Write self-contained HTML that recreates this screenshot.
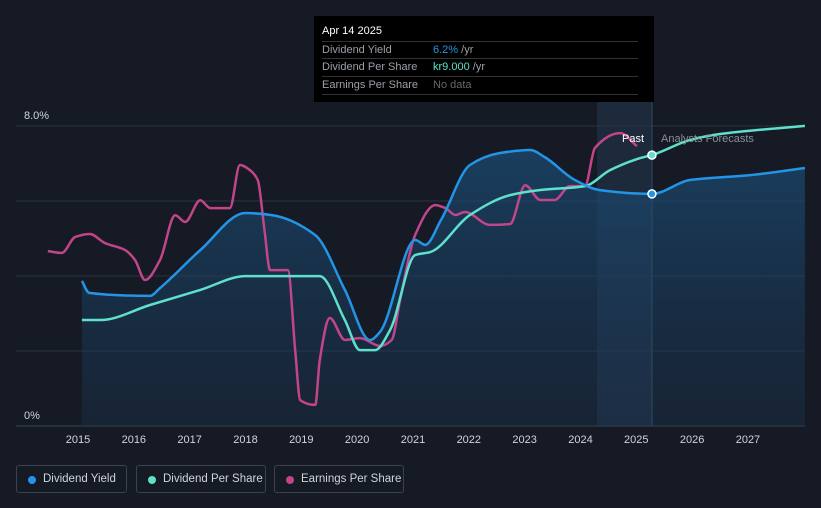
<!DOCTYPE html>
<html><head><meta charset="utf-8">
<style>
body{margin:0;background:#151a24;font-family:"Liberation Sans",sans-serif;}
#wrap{position:relative;width:821px;height:508px;overflow:hidden;background:#151a24;}
svg text{font-family:"Liberation Sans",sans-serif;}
.leg{position:absolute;top:465px;height:28px;border:1px solid #3a4150;border-radius:3px;color:#d0d4da;font-size:11.5px;line-height:27px;box-sizing:border-box;padding-left:26px;white-space:nowrap;}
.leg i{position:absolute;left:11px;top:10px;width:8px;height:8px;border-radius:50%;}
#tip{position:absolute;left:314px;top:16px;width:340px;height:86px;background:#000;color:#fff;font-size:11px;}
.row{position:absolute;left:8px;width:316px;border-top:1px solid #333;height:17px;line-height:17px;color:#9aa0a8;}
.row span{position:absolute;left:111px;}
</style></head><body>
<div id="wrap">
<svg id="svg" width="821" height="508"></svg>
<div id="tip">
 <div style="position:absolute;left:8px;top:9px;font-size:11px">Apr 14 2025</div>
 <div class="row" style="top:25px">Dividend Yield<span><b style="font-weight:normal;color:#2394e6">6.2%</b> /yr</span></div>
 <div class="row" style="top:42px">Dividend Per Share<span><b style="font-weight:normal;color:#5ee0cc">kr9.000</b> /yr</span></div>
 <div class="row" style="top:60px;border-bottom:1px solid #333">Earnings Per Share<span style="color:#666">No data</span></div>
</div>
<div class="leg" style="left:16px;width:111px"><i style="background:#2394e6"></i>Dividend Yield</div>
<div class="leg" style="left:136px;width:130px"><i style="background:#5ee0cc"></i>Dividend Per Share</div>
<div class="leg" style="left:274px;width:130px"><i style="background:#c2458a"></i>Earnings Per Share</div>
</div>
<script>
const yieldX=[2015.07,2015.2,2016.29,2016.47,2017.19,2018.0,2018.44,2019.25,2019.78,2020.23,2020.41,2021.04,2021.22,2021.5,2022.02,2022.56,2023.1,2023.36,2023.9,2024.35,2025.28,2025.96,2027.04,2028.02];
const yieldV=[3.87,3.55,3.47,3.68,4.69,5.68,5.63,5.09,3.63,2.29,2.51,4.96,4.83,5.49,6.96,7.28,7.36,7.17,6.56,6.29,6.19,6.56,6.69,6.88];
const dpsX=[2015.07,2015.4,2016.29,2017.19,2018.0,2019.33,2019.78,2020.05,2020.32,2020.59,2021.04,2021.31,2022.02,2022.74,2023.28,2024.08,2024.53,2025.07,2025.28,2025.96,2026.5,2028.02];
const dpsV=[3.52,3.52,4.02,4.52,4.98,4.98,3.52,2.52,2.52,3.19,5.68,5.78,7.01,7.67,7.84,7.97,8.5,8.9,9.0,9.5,9.7,9.97];
const epsX=[2014.46,2014.71,2014.95,2015.21,2015.48,2015.84,2016.02,2016.2,2016.47,2016.74,2016.92,2017.19,2017.37,2017.72,2017.9,2018.08,2018.22,2018.34,2018.44,2018.76,2018.89,2018.98,2019.25,2019.33,2019.51,2019.78,2020.05,2020.41,2020.62,2020.77,2021.04,2021.4,2021.58,2021.76,2021.93,2022.38,2022.74,2023.01,2023.28,2023.54,2023.81,2024.08,2024.26,2024.71,2025.01];
const epsV=[5.81,5.75,6.28,6.38,6.08,5.85,5.52,4.85,5.52,7.0,6.78,7.5,7.24,7.24,8.67,8.5,8.17,6.51,5.18,5.18,2.52,0.86,0.7,2.19,3.59,2.86,2.92,2.66,2.86,4.19,6.35,7.34,7.24,7.01,7.11,6.68,6.71,8.0,7.51,7.51,7.97,7.97,9.24,9.73,9.3];
const yTicks=[0,2,4,6,8];
const yTickLabels={0:"0%",8:"8.0%"};
const xYears=[2015,2016,2017,2018,2019,2020,2021,2022,2023,2024,2025,2026,2027];
const X=t=>78+(t-2015)*55.83;
const Y=v=>426-v*37.5;
const K=v=>426-v*30.1;
const ns="http://www.w3.org/2000/svg";
const svg=document.getElementById('svg');
function el(tag,a,parent){const e=document.createElementNS(ns,tag);for(const k in a)e.setAttribute(k,a[k]);(parent||svg).appendChild(e);return e;}
function path(xs,vs,fy){const px=xs.map(X),py=vs.map(fy),n=px.length;
 const d=[],m=new Array(n);for(let i=0;i<n-1;i++)d.push((py[i+1]-py[i])/(px[i+1]-px[i]));
 m[0]=d[0];m[n-1]=d[n-2];
 for(let i=1;i<n-1;i++){if(d[i-1]*d[i]<=0)m[i]=0;else{const w1=2*(px[i+1]-px[i])+(px[i]-px[i-1]),w2=(px[i+1]-px[i])+2*(px[i]-px[i-1]);m[i]=(w1+w2)/(w1/d[i-1]+w2/d[i]);}}
 let s="M"+px[0]+","+py[0];
 for(let i=0;i<n-1;i++){const h=(px[i+1]-px[i])/3;s+=` C${px[i]+h},${py[i]+m[i]*h} ${px[i+1]-h},${py[i+1]-m[i+1]*h} ${px[i+1]},${py[i+1]}`;}
 return s;}
const defs=el('defs',{});
const g=el('linearGradient',{id:'ag',x1:0,y1:0,x2:0,y2:1},defs);
el('stop',{offset:0,'stop-color':'#1b4a72','stop-opacity':0.75},g);
el('stop',{offset:1,'stop-color':'#1b3552','stop-opacity':0.35},g);
let r=el('rect',{x:597,y:102,width:55,height:324,fill:'#2a4a6a',opacity:0.35});

yTicks.forEach(v=>{const l=el('line',{x1:16,x2:805,y1:Y(v),y2:Y(v),stroke:v==0?'#3a4150':'#2d3440','stroke-width':1});
 
 if(yTickLabels[v]){const t=el('text',{x:24,y:Y(v)-7,fill:'#d0d4da','font-size':11});t.textContent=yTickLabels[v];
 }});
const yd=path(yieldX,yieldV,Y);
const area=el('path',{d:yd+` L${X(yieldX[yieldX.length-1])},426 L${X(yieldX[0])},426 Z`,fill:'url(#ag)'});

const vl=el('line',{x1:652,x2:652,y1:102,y2:426,stroke:'#2c4a66','stroke-width':1});

let e=el('path',{d:path(epsX,epsV,K),fill:'none',stroke:'#c2458a','stroke-width':2.5});

e=el('path',{d:path(dpsX,dpsV,K),fill:'none',stroke:'#5ee0cc','stroke-width':2.5});

e=el('path',{d:yd,fill:'none',stroke:'#2394e6','stroke-width':2.5});

e=el('circle',{cx:X(2025.28),cy:K(9.0),r:4,fill:'#5ee0cc',stroke:'#fff','stroke-width':1.5});

e=el('circle',{cx:X(2025.28),cy:Y(6.19),r:4,fill:'#2394e6',stroke:'#fff','stroke-width':1.5});

e=el('text',{x:644,y:142,fill:'#fff','font-size':11,'text-anchor':'end'});e.textContent='Past';

e=el('text',{x:661,y:142,fill:'#8a9099','font-size':11});e.textContent='Analysts Forecasts';

xYears.forEach(yr=>{const t=el('text',{x:X(yr),y:443,fill:'#d0d4da','font-size':11,'text-anchor':'middle'});t.textContent=yr;
 });
</script>
</body></html>
